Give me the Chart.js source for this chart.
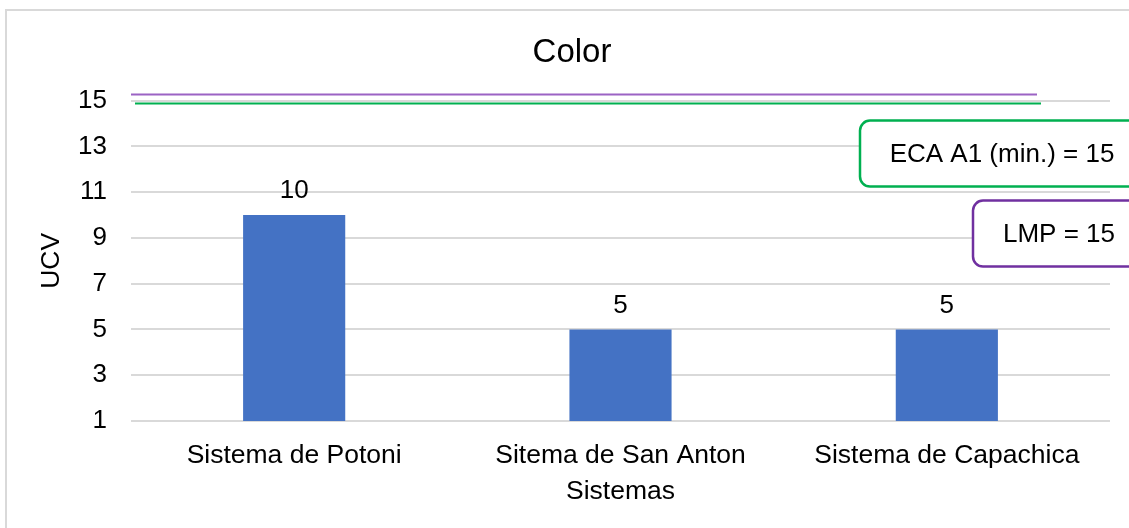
<!DOCTYPE html>
<html>
<head>
<meta charset="utf-8">
<script src="https://cdn.jsdelivr.net/npm/chart.js@4"></script>
<style>
    html, body { margin: 0; padding: 0; background: #fff; overflow: hidden; }
    #frame { position: absolute; left: 5px; top: 9px; width: 1300px; height: 700px; border: 2px solid #d9d9d9; }
    #chart { position: absolute; left: 0; top: 0; }
</style>
</head>
<body>
<div id="frame"></div>
<canvas id="chart" width="1129" height="528"></canvas>
<script>
var sistemas = ['Sistema de Potoni', 'Sitema de San Anton', 'Sistema de Capachica'];
var valores = [10, 5, 5];
var yTicks = [1, 3, 5, 7, 9, 11, 13, 15];

// limites de referencia
var ecaA1 = 15;
var lmp = 15;

var fuente = '"Liberation Sans", Arial, sans-serif';
var verde = '#00B050';
var morado = '#7030A0';

// etiquetas de valor encima de cada barra
var etiquetas = {
    id: 'etiquetas',
    afterDatasetsDraw: function (chart) {
        var ctx = chart.ctx;
        var meta = chart.getDatasetMeta(0);
        ctx.save();
        ctx.font = '26px ' + fuente;
        ctx.fillStyle = '#000';
        ctx.textAlign = 'center';
        ctx.textBaseline = 'middle';
        meta.data.forEach(function (barra, i) {
            ctx.fillText(valores[i], barra.x, barra.y - 24);
        });
        ctx.restore();
    }
};

// lineas de ECA y LMP con sus cuadros de texto
var limites = {
    id: 'limites',
    afterDraw: function (chart) {
        var ctx = chart.ctx;
        var area = chart.chartArea;
        var y = chart.scales.y;
        var yEca = y.getPixelForValue(ecaA1);
        var yLmp = y.getPixelForValue(lmp);

        ctx.save();
        ctx.lineWidth = 2;
        ctx.strokeStyle = '#9B63C4';
        ctx.beginPath();
        ctx.moveTo(area.left, yLmp - 6);
        ctx.lineTo(area.right - 73, yLmp - 6);
        ctx.stroke();

        ctx.strokeStyle = verde;
        ctx.beginPath();
        ctx.moveTo(area.left + 4, yEca + 3);
        ctx.lineTo(area.right - 69, yEca + 3);
        ctx.stroke();

        function cuadro(x, top, color, texto, cx) {
            ctx.lineWidth = 2.5;
            ctx.strokeStyle = color;
            ctx.fillStyle = '#fff';
            ctx.beginPath();
            ctx.roundRect(x, top, 300, 66, 10);
            ctx.fill();
            ctx.stroke();
            ctx.fillStyle = '#000';
            ctx.font = '26px ' + fuente;
            ctx.textAlign = 'center';
            ctx.textBaseline = 'middle';
            ctx.fillText(texto, cx, top + 34);
        }
        cuadro(area.right - 250, yEca + 20, verde, 'ECA A1 (min.) = ' + ecaA1, area.right - 108);
        cuadro(area.right - 137, yEca + 100, morado, 'LMP = ' + lmp, area.right - 51);
        ctx.restore();
    }
};

Chart.defaults.font.family = fuente;
Chart.defaults.color = '#000';

new Chart(document.getElementById('chart').getContext('2d'), {
    type: 'bar',
    data: {
        labels: sistemas,
        datasets: [{
            label: 'UCV',
            data: valores,
            backgroundColor: '#4472C4',
            categoryPercentage: 1,
            barPercentage: 0.313
        }]
    },
    options: {
        responsive: false,
        animation: false,
        layout: {
            padding: { top: 14, right: 19, bottom: 0, left: 34 }
        },
        plugins: {
            legend: { display: false },
            tooltip: { enabled: false },
            title: {
                display: true,
                text: 'Color',
                color: '#000',
                font: { size: 33, weight: 'normal' },
                padding: { top: 19, bottom: 28 }
            }
        },
        scales: {
            x: {
                grid: { display: false },
                border: { display: false },
                ticks: { font: { size: 26.5 }, padding: 11, maxRotation: 0 },
                title: {
                    display: true,
                    text: 'Sistemas',
                    font: { size: 26.5 },
                    padding: { top: 0, bottom: 20 }
                },
                afterFit: function (s) { s.height = 107; }
            },
            y: {
                min: 1,
                max: 15,
                afterBuildTicks: function (s) {
                    s.ticks = yTicks.map(function (v) { return { value: v }; });
                },
                grid: { color: '#d9d9d9', lineWidth: 2, drawTicks: false },
                border: { display: false },
                ticks: { font: { size: 26 }, padding: 24 },
                title: {
                    display: true,
                    text: 'UCV',
                    font: { size: 26.5 },
                    padding: { top: 2, bottom: 0 }
                },
                afterFit: function (s) { s.width = 97; }
            }
        }
    },
    plugins: [etiquetas, limites]
});
</script>
</body>
</html>
